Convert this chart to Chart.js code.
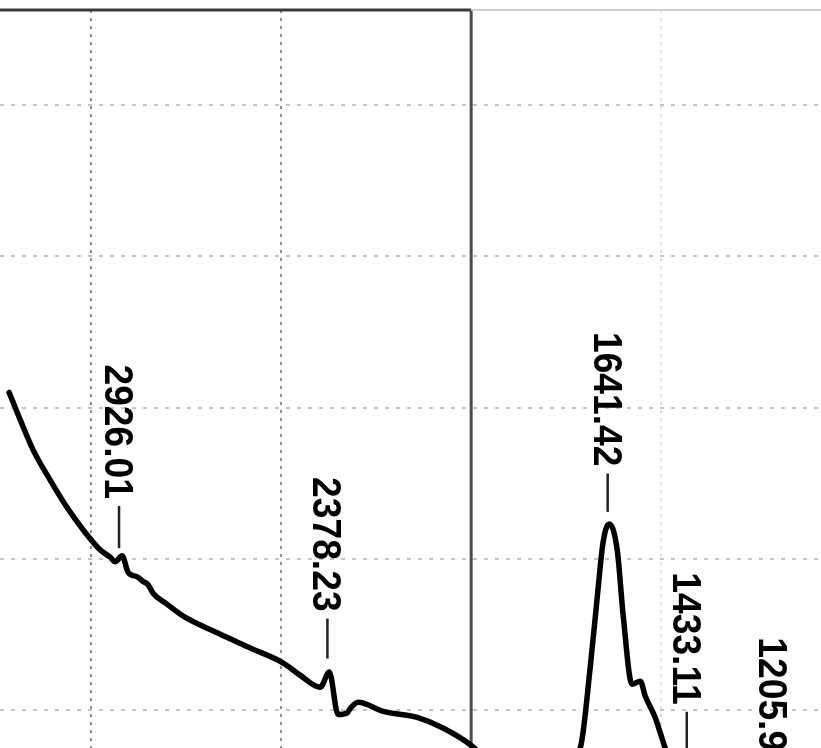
<!DOCTYPE html>
<html>
<head>
<meta charset="utf-8">
<script src="https://cdn.jsdelivr.net/npm/chart.js@4"></script>
<style>
  html, body { margin: 0; padding: 0; background: #fff; }
  #wrap { width: 821px; height: 748px; }
</style>
</head>
<body>
<div id="wrap"><canvas id="irChart"></canvas></div>
<script>
// wavenumber (cm-1) and signal
const wavenumber = [3215, 3186, 3152, 3107, 3063, 3020, 2976, 2949, 2936, 2918, 2902, 2878, 2863, 2850, 2836, 2800,
    2757, 2668, 2581, 2494, 2450, 2397, 2373, 2350, 2326, 2318, 2297, 2231, 2142, 2074, 1995, 1858,
    1713, 1687, 1669, 1653, 1637, 1616, 1600, 1577, 1555, 1542, 1516, 1508, 1490, 1460, 1433, 1380,
    1300, 1250, 1205, 1150, 1080];
const signal = [31.0, 29.2, 27.2, 25.2, 23.4, 21.9, 20.6, 20.1, 19.8, 20.2, 19.1, 18.8, 18.5, 18.3, 17.7, 17.0,
    16.2, 15.1, 14.1, 13.1, 12.3, 11.5, 12.5, 9.7, 9.8, 10.1, 10.5, 9.9, 9.5, 8.8, 7.55, 4.0,
    7.5, 12.8, 17.3, 21.1, 22.3, 20.6, 16.2, 11.7, 11.9, 10.9, 9.5, 8.9, 7.5, 5.4, 6.7, 4.5,
    4.0, 4.5, 5.5, 4.0, 3.5];

// vertical grid positions (cm-1)
const gridWn = [3000, 2500, 2000, 1500];

// peak labels
const peakText = ['2926.01', '2378.23', '1641.42', '1433.11', '1205.95'];
const peakWn = [2926, 2378, 1641, 1433, 1205];
const peakTip = [20.7, 13.4, 23.1, 5.0, 5.0];
const labelTop = [32.85, 25.4, 35.0, 19.1, 14.8];

const peakLabels = {
    id: 'peakLabels',
    beforeDatasetsDraw(chart) {
        const { ctx, chartArea, scales } = chart;
        const x2000 = scales.x.getPixelForValue(2000);
        ctx.save();
        // solid 2000 line
        ctx.strokeStyle = '#4a4a4a';
        ctx.lineWidth = 3;
        ctx.beginPath();
        ctx.moveTo(x2000, chartArea.top);
        ctx.lineTo(x2000, chartArea.bottom);
        ctx.stroke();
        // top frame
        ctx.strokeStyle = '#3a3a3a';
        ctx.beginPath();
        ctx.moveTo(chartArea.left, chartArea.top);
        ctx.lineTo(x2000, chartArea.top);
        ctx.stroke();
        ctx.strokeStyle = '#d0d0d0';
        ctx.lineWidth = 2;
        ctx.beginPath();
        ctx.moveTo(x2000, chartArea.top);
        ctx.lineTo(chartArea.right, chartArea.top);
        ctx.stroke();
        ctx.restore();
    },
    afterDatasetsDraw(chart) {
        const { ctx, scales } = chart;
        ctx.save();
        ctx.fillStyle = '#000';
        ctx.strokeStyle = '#222';
        ctx.font = 'bold 40px "Liberation Sans", Arial, sans-serif';
        const capH = 28;
        peakText.forEach((t, i) => {
            const x = scales.x.getPixelForValue(peakWn[i]);
            const top = scales.y.getPixelForValue(labelTop[i]);
            const w = ctx.measureText(t).width * 0.93;
            ctx.save();
            ctx.translate(x, top);
            ctx.rotate(Math.PI / 2);
            ctx.scale(0.93, 1);
            ctx.fillText(t, 0, capH / 2);
            ctx.restore();
            const tip = scales.y.getPixelForValue(peakTip[i]);
            ctx.lineWidth = 2.5;
            ctx.beginPath();
            ctx.moveTo(x, top + w + 7);
            ctx.lineTo(x, tip);
            ctx.stroke();
        });
        ctx.restore();
    }
};

const ctx = document.getElementById('irChart').getContext('2d');
new Chart(ctx, {
    type: 'line',
    data: {
        datasets: [{
            data: wavenumber.map((w, i) => ({ x: w, y: signal[i] })),
            borderColor: '#000',
            borderWidth: 5.5,
            borderJoinStyle: 'round',
            borderCapStyle: 'round',
            pointRadius: 0,
            cubicInterpolationMode: 'monotone',
            fill: false,
        }],
    },
    options: {
        responsive: true,
        maintainAspectRatio: false,
        animation: false,
        layout: { padding: { top: 10, left: 0, right: 0, bottom: 0 } },
        plugins: { legend: { display: false }, tooltip: { enabled: false } },
        scales: {
            x: {
                type: 'linear',
                position: 'top',
                reverse: true,
                min: 1080,
                max: 3239,
                afterFit: (s) => { s.height = 0; },
                afterBuildTicks: (s) => { s.ticks = gridWn.map(v => ({ value: v })); },
                ticks: { display: false },
                border: { display: false, dash: [3, 5] },
                grid: {
                    drawTicks: false,
                    lineWidth: 2,
                    color: (c) => {
                        const v = c.tick && c.tick.value;
                        if (v === 2000) return 'rgba(0,0,0,0)';
                        if (v === 1500) return '#dcdcdc';
                        return '#8f8f8f';
                    },
                },
            },
            y: {
                min: 7.48,
                max: 56.3,
                afterFit: (s) => { s.width = 0; },
                ticks: { display: false, stepSize: 10, includeBounds: false },
                border: { display: false, dash: [4, 7] },
                grid: { drawTicks: false, lineWidth: 2, color: '#c4c4c4' },
            },
        },
    },
    plugins: [peakLabels],
});
</script>
</body>
</html>
